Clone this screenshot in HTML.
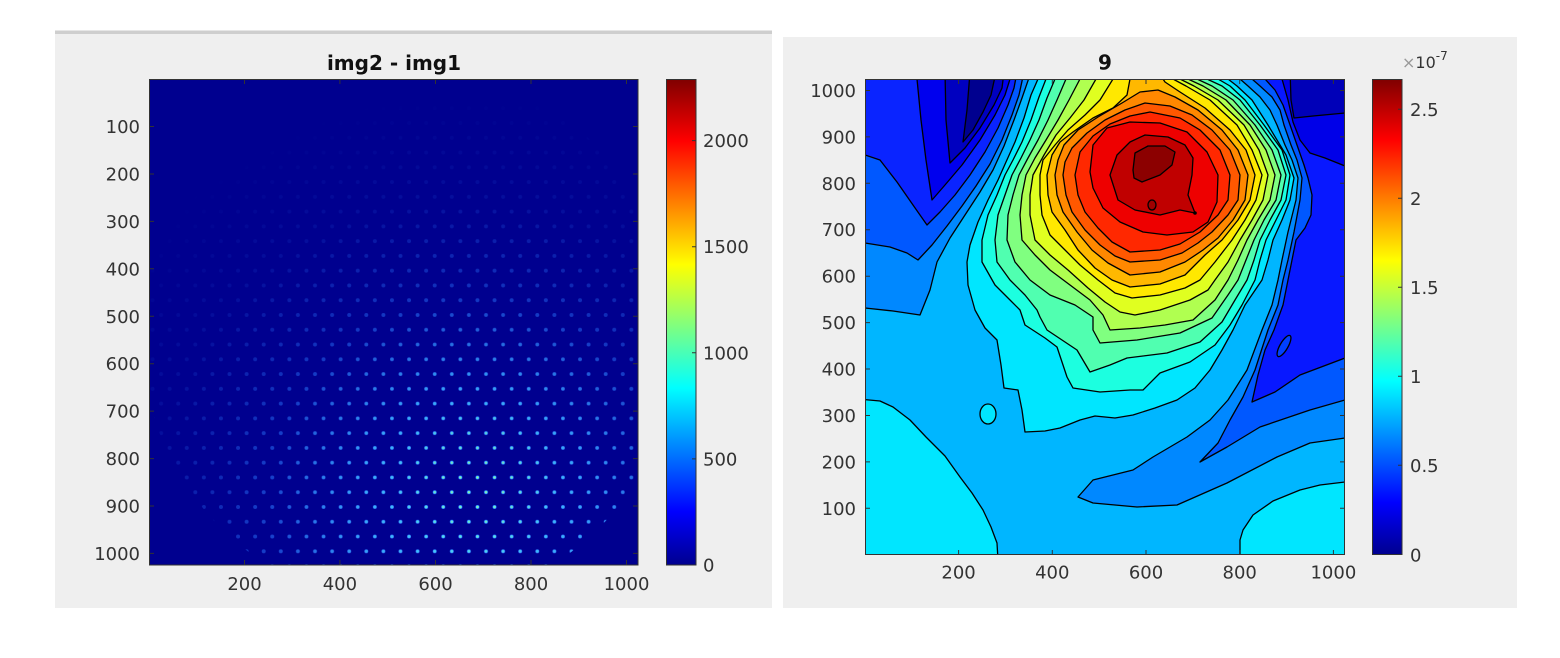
<!DOCTYPE html>
<html><head><meta charset="utf-8"><style>
html,body{margin:0;padding:0;background:#fff;}
svg{display:block;}
text{font-family:"DejaVu Sans","Liberation Sans",sans-serif;fill:#333;}
</style></head><body>
<svg width="1560" height="658" viewBox="0 0 1560 658" xmlns="http://www.w3.org/2000/svg">
<defs>
<linearGradient id="jet" x1="0" y1="1" x2="0" y2="0">
<stop offset="0" stop-color="#00008f"/><stop offset="0.11" stop-color="#0000ff"/><stop offset="0.365" stop-color="#00ffff"/><stop offset="0.619" stop-color="#ffff00"/><stop offset="0.873" stop-color="#ff0000"/><stop offset="1" stop-color="#800000"/>
</linearGradient>
<clipPath id="cL"><rect x="149.5" y="79.5" width="488.5" height="485.5"/></clipPath>
<clipPath id="cR"><rect x="865.3" y="79.3" width="479.4" height="475"/></clipPath>
<pattern id="pA" patternUnits="userSpaceOnUse" x="255.15" y="543.915" width="17.1" height="29.54"><g fill="#2a78ff"><circle cx="8.55" cy="7.385" r="2"/><circle cx="0" cy="22.155" r="2"/><circle cx="17.1" cy="22.155" r="2"/></g></pattern>
<pattern id="pB" patternUnits="userSpaceOnUse" x="255.15" y="543.915" width="17.1" height="29.54"><g fill="#50e8ff"><circle cx="8.55" cy="7.385" r="1.5"/><circle cx="0" cy="22.155" r="1.5"/><circle cx="17.1" cy="22.155" r="1.5"/></g></pattern>
<pattern id="pC" patternUnits="userSpaceOnUse" x="255.15" y="543.915" width="17.1" height="29.54"><g fill="#d8ff40"><circle cx="8.55" cy="7.385" r="0.9"/><circle cx="0" cy="22.155" r="0.9"/><circle cx="17.1" cy="22.155" r="0.9"/></g></pattern>
<radialGradient id="gA" gradientUnits="userSpaceOnUse" cx="470" cy="520" r="430"><stop offset="0" stop-color="#fff"/><stop offset="0.3" stop-color="#d0d0d0"/><stop offset="0.55" stop-color="#646464"/><stop offset="0.75" stop-color="#1e1e1e"/><stop offset="1" stop-color="#000"/></radialGradient>
<radialGradient id="gB" gradientUnits="userSpaceOnUse" cx="470" cy="500" r="200"><stop offset="0" stop-color="#fff"/><stop offset="0.5" stop-color="#888"/><stop offset="1" stop-color="#000"/></radialGradient>
<radialGradient id="gC" gradientUnits="userSpaceOnUse" cx="475" cy="485" r="85"><stop offset="0" stop-color="#bbb"/><stop offset="1" stop-color="#000"/></radialGradient>
<mask id="mA" maskUnits="userSpaceOnUse" x="0" y="0" width="1560" height="658"><circle cx="410" cy="338" r="268" fill="url(#gA)"/></mask>
<mask id="mB" maskUnits="userSpaceOnUse" x="0" y="0" width="1560" height="658"><circle cx="410" cy="338" r="268" fill="url(#gB)"/></mask>
<mask id="mC" maskUnits="userSpaceOnUse" x="0" y="0" width="1560" height="658"><circle cx="410" cy="338" r="268" fill="url(#gC)"/></mask>
</defs>

<!-- panels -->
<rect x="55" y="30" width="717" height="578" fill="#efefef"/>
<rect x="55" y="30" width="717" height="1" fill="#e6e6e6"/>
<rect x="55" y="31" width="717" height="3" fill="#cecece"/>
<rect x="783" y="37" width="734" height="571" fill="#efefef"/>

<!-- LEFT PLOT -->
<text x="394" y="70" text-anchor="middle" font-size="20" font-weight="bold" style="fill:#111">img2 - img1</text>
<g clip-path="url(#cL)">
<rect x="149" y="79" width="490" height="487" fill="#00008f"/>
<g mask="url(#mA)"><rect x="149" y="79" width="490" height="487" fill="url(#pA)"/></g>
<g mask="url(#mB)"><rect x="149" y="79" width="490" height="487" fill="url(#pB)"/></g>
<g mask="url(#mC)"><rect x="149" y="79" width="490" height="487" fill="url(#pC)"/></g>
</g>
<rect x="149.5" y="79.5" width="488.5" height="485.5" fill="none" stroke="#333" stroke-width="1"/>
<g stroke="#333" stroke-width="1">
<path d="M244.5,565V560M339.9,565V560M435.5,565V560M531,565V560M626.5,565V560M244.5,79.5V84M339.9,79.5V84M435.5,79.5V84M531,79.5V84M626.5,79.5V84"/>
<path d="M149.5,126.5H154M149.5,174H154M149.5,221.4H154M149.5,268.8H154M149.5,316.3H154M149.5,363.7H154M149.5,411.1H154M149.5,458.6H154M149.5,506H154M149.5,553.4H154"/>
<path d="M638,126.5H633M638,174H633M638,221.4H633M638,268.8H633M638,316.3H633M638,363.7H633M638,411.1H633M638,458.6H633M638,506H633M638,553.4H633"/>
</g>
<g font-size="18" text-anchor="end">
<text x="140" y="133">100</text><text x="140" y="180.5">200</text><text x="140" y="228">300</text><text x="140" y="275.3">400</text><text x="140" y="322.8">500</text><text x="140" y="370.2">600</text><text x="140" y="417.6">700</text><text x="140" y="465.1">800</text><text x="140" y="512.5">900</text><text x="140" y="560">1000</text>
</g>
<g font-size="18" text-anchor="middle">
<text x="244.5" y="590">200</text><text x="339.9" y="590">400</text><text x="435.5" y="590">600</text><text x="531" y="590">800</text><text x="626.5" y="590">1000</text>
</g>
<!-- left colorbar -->
<rect x="666.5" y="79.5" width="29.5" height="485.5" fill="url(#jet)" stroke="#333" stroke-width="1"/>
<path d="M696,458.9H692M696,352.8H692M696,246.7H692M696,140.6H692" stroke="#333" stroke-width="1"/>
<g font-size="18">
<text x="703" y="571.5">0</text><text x="703" y="465.4">500</text><text x="703" y="359.3">1000</text><text x="703" y="253.2">1500</text><text x="703" y="147.1">2000</text>
</g>

<!-- RIGHT PLOT -->
<text x="1105" y="69.5" text-anchor="middle" font-size="20" font-weight="bold" style="fill:#111">9</text>
<g clip-path="url(#cR)" stroke="#000" stroke-width="1.3" stroke-linejoin="round">
<rect x="860" y="70" width="495" height="495" fill="#00b6ff" stroke="none"/>
<!-- bottom lobes -->
<path fill="#00e6ff" d="M858,399 L880,401 893,407 910,420 926,437 945,456 960,477 972,493 983,510 991,527 997,543 998,560 858,560 Z"/>
<path fill="#00e6ff" d="M1240,560 L1240,540 1243,530 1253,515 1273,501 1300,490 1320,485 1345,482 1352,482 1352,560 Z"/>
<ellipse cx="988" cy="414" rx="8" ry="10" fill="#00e6ff"/>
<!-- left valleys -->
<path fill="#0088ff" d="M858,72 L1031,72 1022,98 1014,120 1004,146 993,170 980,192 965,215 950,238 937,262 930,290 920,315 893,311 865,308 858,308 Z"/>
<path fill="#0058ff" d="M858,72 L1024,72 1019,95 1012,115 1002,140 990,164 976,186 962,206 947,226 932,245 918,260 907,253 890,247 865,243 858,243 Z"/>
<path fill="#0a24ff" d="M858,72 L1017,72 1014,88 1008,105 998,128 985,152 970,175 955,195 940,212 927,225 913,205 897,182 880,160 865,155 858,155 Z"/>
<path fill="#0000ee" d="M917,72 L917,79 921,120 926,160 932,200 945,185 962,165 980,140 995,115 1005,95 1010,79 1010,72 Z"/>
<path fill="#0000c0" d="M945,72 L946,120 950,163 965,148 980,128 994,105 1002,88 1004,72 Z"/>
<path fill="#00008f" d="M970,72 L967,110 963,142 973,130 983,112 991,95 996,72 Z"/>
<!-- right valleys -->
<path fill="#0088ff" d="M1240,70 L1240,79 1248,86 1260,97 1270,110 1277,125 1285,145 1292,160 1298,178 1296,200 1288,232 1282,260 1278,280 1272,305 1262,330 1247,370 1228,400 1210,420 1187,437 1153,457 1133,470 1093,480 1078,497 1093,503 1137,507 1177,505 1227,483 1277,457 1310,443 1345,438 1352,438 1352,70 Z"/>
<path fill="#0058ff" d="M1252,70 L1252,79 1260,86 1272,97 1280,110 1284,125 1291,145 1297,160 1302,178 1300,200 1294,232 1288,260 1283,280 1278,305 1268,330 1255,370 1243,397 1230,420 1218,443 1200,462 1227,447 1260,427 1310,410 1345,400 1352,400 1352,70 Z"/>
<path fill="#0818ff" d="M1265,70 L1265,79 1275,90 1283,105 1289,122 1297,145 1304,165 1308,178 1312,195 1311,215 1305,228 1296,240 1292,260 1288,280 1283,305 1274,330 1265,350 1258,375 1252,402 1275,392 1300,375 1345,358 1352,358 1352,70 Z"/>
<ellipse cx="1284" cy="346" rx="4" ry="12" transform="rotate(30 1284 346)" fill="#0040ff"/>
<path fill="#0000e8" d="M1282,70 L1282,79 1288,100 1293,122 1300,140 1310,153 1325,158 1345,166 1352,166 1352,70 Z"/>
<path fill="#0000b8" d="M1290,70 L1291,100 1294,118 1313,116 1345,113 1352,113 1352,70 Z"/>
<!-- peak -->
<path fill="#00e6ff" d="M1038,70 L1038,79 1031,95 1024,118 1015,142 1006,162 998,180 988,200 978,222 970,245 967,262 968,285 975,310 985,328 997,340 1001,365 1004,388 1018,390 1022,410 1025,432 1045,431 1060,428 1080,420 1095,416 1115,418 1133,415 1155,408 1177,400 1195,388 1210,370 1222,350 1233,330 1245,305 1262,280 1268,260 1273,240 1282,220 1290,200 1294,178 1286,155 1268,125 1252,100 1237,86 1228,79 1228,70 Z"/>
<path fill="#1cffe0" d="M1046,70 L1046,79 1039,97 1031,120 1022,142 1013,160 1005,175 997,195 988,215 982,240 982,262 995,285 1010,300 1020,310 1025,325 1045,338 1057,347 1067,377 1073,388 1100,392 1130,390 1143,390 1160,373 1190,362 1215,345 1230,325 1242,305 1255,280 1260,260 1266,240 1276,220 1286,200 1290,175 1282,150 1264,125 1245,100 1230,86 1218,79 1218,70 Z"/>
<path fill="#50ffb0" d="M1055,70 L1055,79 1047,98 1039,120 1030,140 1021,158 1012,175 1005,195 998,215 995,240 997,262 1010,280 1025,295 1037,310 1040,317 1047,330 1077,350 1090,372 1110,365 1127,358 1167,353 1200,342 1222,322 1235,300 1247,280 1254,260 1260,240 1270,220 1281,200 1286,175 1278,150 1260,125 1240,100 1222,86 1207,79 1207,70 Z"/>
<path fill="#80ff80" d="M1066,70 L1066,79 1057,100 1048,120 1038,140 1028,158 1019,175 1013,195 1008,215 1007,240 1015,262 1030,280 1050,295 1075,305 1093,317 1093,330 1100,343 1137,340 1180,333 1212,318 1228,295 1238,280 1246,260 1254,240 1264,220 1276,200 1281,175 1272,150 1255,125 1233,100 1212,86 1197,79 1197,70 Z"/>
<path fill="#b0ff50" d="M1080,70 L1080,79 1069,100 1058,120 1046,140 1035,158 1026,175 1022,195 1020,215 1022,240 1035,255 1050,270 1070,285 1090,300 1103,315 1110,330 1140,328 1165,325 1193,320 1215,300 1228,280 1238,260 1247,240 1258,220 1270,200 1275,175 1266,150 1250,125 1226,100 1203,86 1188,79 1188,70 Z"/>
<path fill="#e0ff20" d="M1096,70 L1096,79 1084,100 1070,118 1056,135 1044,155 1033,175 1030,195 1030,215 1035,240 1050,255 1068,270 1088,288 1105,302 1120,312 1135,315 1160,310 1190,300 1208,290 1215,280 1228,262 1240,240 1252,220 1263,200 1268,175 1259,150 1244,125 1218,100 1194,86 1180,79 1180,70 Z"/>
<path fill="#ffe800" d="M1113,70 L1113,79 1100,100 1085,115 1068,130 1055,145 1043,160 1040,175 1040,195 1042,215 1050,235 1065,250 1080,265 1098,280 1115,293 1132,298 1160,295 1185,288 1200,280 1215,262 1232,240 1245,220 1256,200 1262,175 1252,150 1237,125 1210,100 1186,86 1173,79 1173,70 Z"/>
<path fill="#ffb800" d="M1130,70 L1130,79 1127,95 1113,108 1093,118 1073,132 1060,142 1052,155 1047,175 1048,195 1052,212 1065,230 1078,250 1095,268 1112,280 1130,287 1160,284 1185,275 1205,255 1222,240 1238,220 1250,200 1255,175 1246,150 1230,130 1205,108 1180,92 1165,82 1163,79 1163,70 Z"/>
<path fill="#ff8800" d="M1140,92 L1122,103 1098,117 1078,130 1064,145 1058,160 1055,175 1057,195 1063,212 1077,232 1092,250 1108,263 1130,275 1160,272 1185,262 1203,250 1218,238 1233,220 1245,200 1248,175 1238,150 1222,130 1198,110 1175,97 1158,90 Z"/>
<path fill="#ff5800" d="M1145,103 L1125,110 1105,120 1087,133 1072,148 1065,162 1063,175 1066,195 1072,212 1085,230 1100,245 1115,256 1130,262 1160,260 1182,253 1198,243 1212,232 1228,215 1238,200 1240,175 1230,150 1212,130 1192,115 1170,106 Z"/>
<path fill="#ff2800" d="M1150,112 L1130,116 1110,124 1093,136 1080,152 1075,175 1078,195 1085,212 1098,228 1112,242 1130,252 1160,250 1180,244 1200,232 1218,215 1228,200 1230,175 1220,150 1200,130 1180,118 Z"/>
<path fill="#ee0000" d="M1090,172 L1093,145 1107,128 1130,122 1160,123 1187,132 1207,152 1218,175 1217,202 1208,222 1193,232 1167,235 1143,232 1120,222 1103,208 1093,188 Z"/>
<path fill="#c00000" d="M1110,175 L1117,155 1130,142 1145,135 1168,137 1185,145 1193,158 1192,175 1188,195 1195,213 1180,210 1160,215 1135,210 1118,200 Z"/>
<ellipse cx="1152" cy="205" rx="4" ry="5" fill="#a00000"/>
<path fill="#8c0000" d="M1133,170 L1135,153 1148,146 1165,146 1175,152 1172,165 1160,175 1142,182 1134,178 Z"/>
<circle cx="1195" cy="213" r="1.8" fill="#000" stroke="none"/>
</g>
<rect x="865.5" y="79.5" width="479" height="475" fill="none" stroke="#333" stroke-width="1"/>
<g stroke="#333" stroke-width="1">
<path d="M958.6,554.5V550M1052.3,554.5V550M1146,554.5V550M1239.7,554.5V550M1333.4,554.5V550M958.6,79.5V84M1052.3,79.5V84M1146,79.5V84M1239.7,79.5V84M1333.4,79.5V84"/>
<path d="M865.5,508.3H870M865.5,461.9H870M865.5,415.5H870M865.5,369H870M865.5,322.6H870M865.5,276.2H870M865.5,229.7H870M865.5,183.3H870M865.5,136.9H870M865.5,90.5H870"/>
<path d="M1344.5,508.3H1340M1344.5,461.9H1340M1344.5,415.5H1340M1344.5,369H1340M1344.5,322.6H1340M1344.5,276.2H1340M1344.5,229.7H1340M1344.5,183.3H1340M1344.5,136.9H1340M1344.5,90.5H1340"/>
</g>
<g font-size="18" text-anchor="end">
<text x="856" y="514.8">100</text><text x="856" y="468.4">200</text><text x="856" y="422">300</text><text x="856" y="375.5">400</text><text x="856" y="329.1">500</text><text x="856" y="282.7">600</text><text x="856" y="236.2">700</text><text x="856" y="189.8">800</text><text x="856" y="143.4">900</text><text x="856" y="97">1000</text>
</g>
<g font-size="18" text-anchor="middle">
<text x="958.6" y="578.3">200</text><text x="1052.3" y="578.3">400</text><text x="1146" y="578.3">600</text><text x="1239.7" y="578.3">800</text><text x="1333.4" y="578.3">1000</text>
</g>
<!-- right colorbar -->
<rect x="1372.5" y="79.5" width="29.5" height="475" fill="url(#jet)" stroke="#333" stroke-width="1"/>
<path d="M1402,465.3H1398M1402,376.3H1398M1402,287.3H1398M1402,198.3H1398M1402,109.3H1398" stroke="#333" stroke-width="1"/>
<g font-size="18">
<text x="1410" y="561.3">0</text><text x="1410" y="472">0.5</text><text x="1410" y="383">1</text><text x="1410" y="294">1.5</text><text x="1410" y="205">2</text><text x="1410" y="116">2.5</text>
</g>
<text x="1402" y="68" font-size="16"><tspan style="fill:#999">×</tspan>10<tspan dy="-8" font-size="12">-7</tspan></text>
</svg>
</body></html>
